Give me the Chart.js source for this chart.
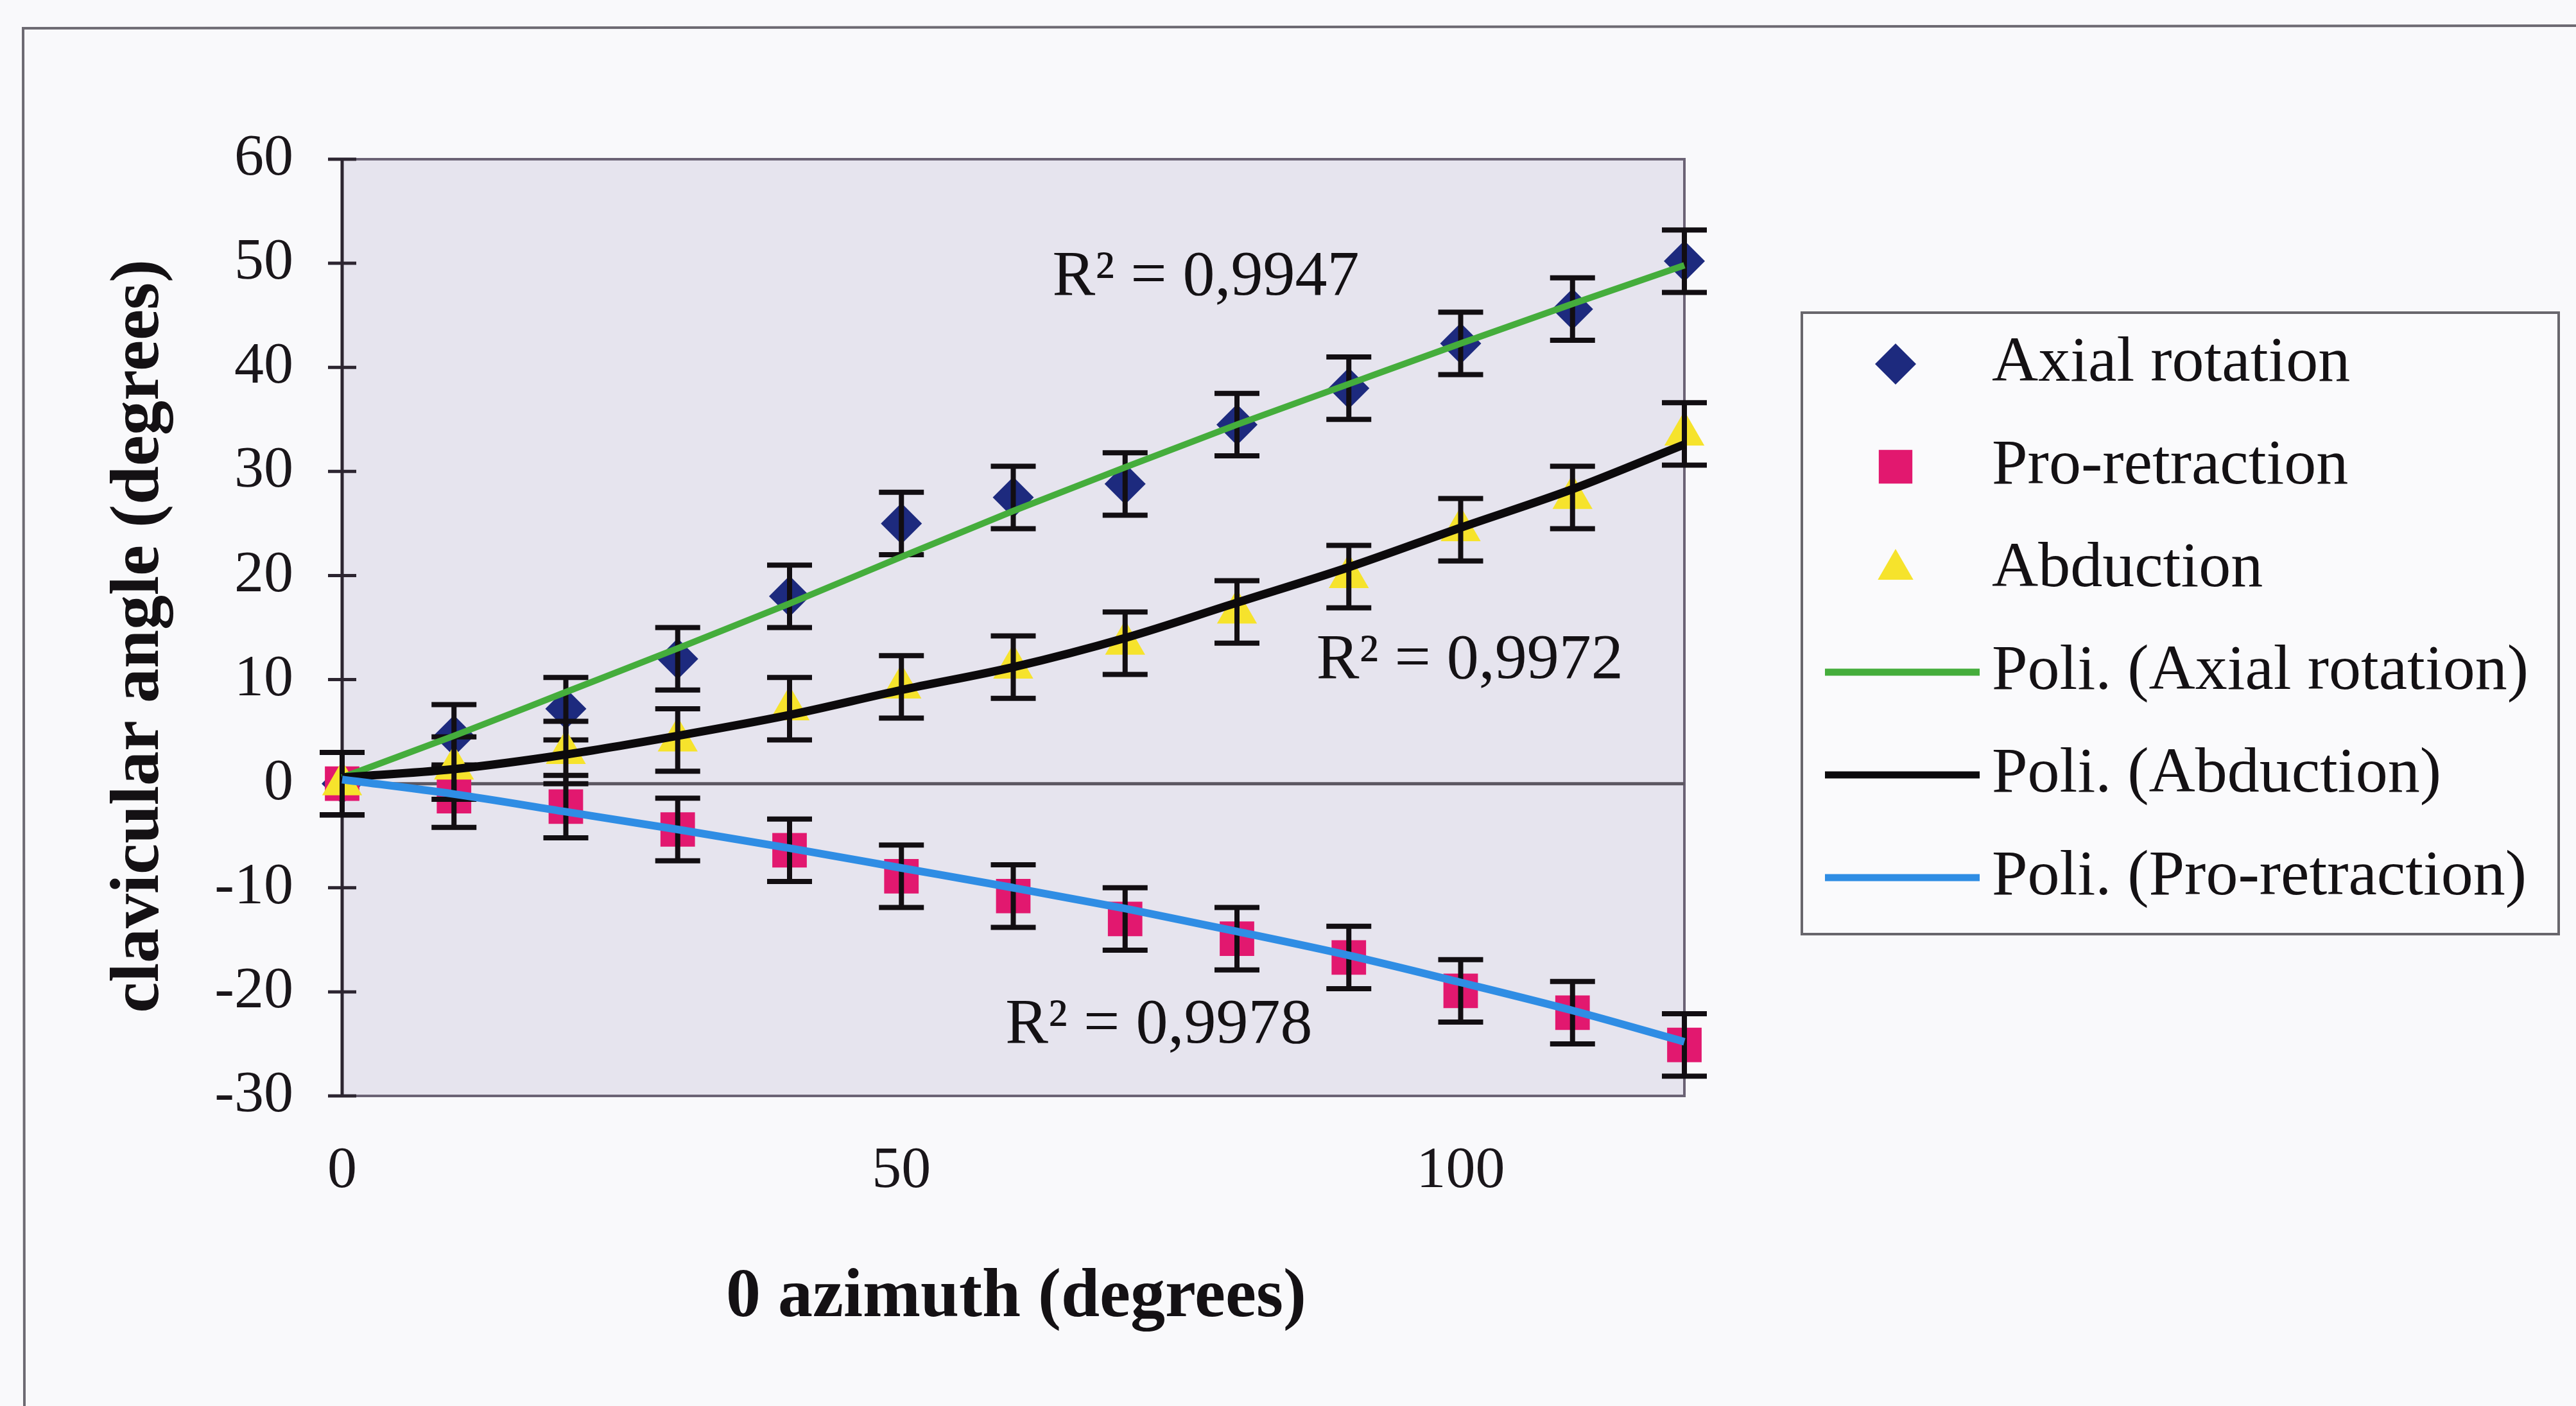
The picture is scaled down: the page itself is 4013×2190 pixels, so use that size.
<!DOCTYPE html>
<html>
<head>
<meta charset="utf-8">
<title>Clavicular angle vs azimuth</title>
<script src="https://cdn.jsdelivr.net/npm/chart.js@4.4.1/dist/chart.umd.min.js"></script>
<style>
  html, body { margin: 0; padding: 0; background: #f9f9fb; }
  #wrap { width: 4013px; height: 2190px; position: relative; }
  canvas { display: block; }
</style>
</head>
<body>
<div id="wrap"><canvas id="c" width="4013" height="2190"></canvas></div>
<script>
// Azimuth positions (degrees)
const azimuth = [0, 10, 20, 30, 40, 50, 60, 70, 80, 90, 100, 110, 120];

// Mean clavicular angles (degrees)
const axialRotation = [0, 4.6, 7.2, 12, 18, 25, 27.5, 28.8, 34.5, 38, 42.3, 45.6, 50.2];
const proRetraction = [0, -1.2, -2.2, -4.4, -6.4, -8.9, -10.8, -13, -14.9, -16.7, -19.9, -22, -25.1];
const abduction     = [0, 1.5, 3, 4.2, 7.2, 9.3, 11.2, 13.5, 16.5, 19.9, 24.4, 27.5, 33.6];

// Error bar half-lengths (degrees)
const axialErr = [3, 3, 3, 3, 3, 3, 3, 3, 3, 3, 3, 3, 3];
const proErr   = [3, 3, 3, 3, 3, 3, 3, 3, 3, 3, 3, 3, 3];
const abdErr   = [3, 3, 3, 3, 3, 3, 3, 3, 3, 3, 3, 3, 3];

// Polynomial trend lines, sampled at each azimuth
const trendAxial     = [0.6, 4.6, 8.8, 13.0, 17.3, 21.8, 26.2, 30.4, 34.5, 38.4, 42.3, 46.1, 49.8];
const trendAbduction = [0.6, 1.4, 2.8, 4.6, 6.6, 9.0, 11.2, 14.0, 17.4, 20.8, 24.6, 28.3, 32.6];
const trendPro       = [0.4, -1.0, -2.7, -4.4, -6.2, -8.1, -10.0, -12.0, -14.2, -16.5, -19.1, -21.8, -24.8];

// Axis ticks
const xTickValues = [0, 50, 100];
const yTickValues = [-30, -20, -10, 0, 10, 20, 30, 40, 50, 60];

// Labels
const seriesNames = ['Axial rotation', 'Pro-retraction', 'Abduction'];
const trendNames = ['Poli. (Axial rotation)', 'Poli. (Abduction)', 'Poli. (Pro-retraction)'];
const r2Texts = ['R\u00B2 = 0,9947', 'R\u00B2 = 0,9972', 'R\u00B2 = 0,9978'];
const xTitle = '0 azimuth (degrees)';
const yTitle = 'clavicular angle (degrees)';

const SERIF = '"Liberation Serif", "Times New Roman", Times, serif';
const toPts = (ys) => azimuth.map((x, i) => ({ x: x, y: ys[i] }));

const errorsByDataset = { 0: axialErr, 1: proErr, 2: abdErr };

const markerSet = (label, ys, color, style, radius, order) => ({
  label, data: toPts(ys), showLine: false,
  pointStyle: style, pointRadius: radius, pointHoverRadius: radius,
  pointBackgroundColor: color, pointBorderColor: color, pointBorderWidth: 0,
  backgroundColor: color, borderColor: color, order, clip: false
});
const trendSet = (label, ys, color, width, order) => ({
  label, data: toPts(ys), showLine: true, pointRadius: 0, pointHoverRadius: 0,
  borderColor: color, backgroundColor: color, borderWidth: width,
  cubicInterpolationMode: 'monotone', fill: false, order, clip: false
});

const datasets = [
  markerSet(seriesNames[0], axialRotation, '#1d2a7e', 'rectRot', 32, 6),
  markerSet(seriesNames[1], proRetraction, '#e2186f', 'rect', 38, 5),
  markerSet(seriesNames[2], abduction, '#f6e32c', 'triangle', 36, 4),
  trendSet(trendNames[0], trendAxial, '#45ad3c', 10, 3),
  trendSet(trendNames[1], trendAbduction, '#0c0a0c', 13, 2),
  trendSet(trendNames[2], trendPro, '#2f8de4', 12, 1)
];

function drawMarker(ctx, style, x, y, r, color) {
  ctx.save();
  ctx.fillStyle = color;
  ctx.beginPath();
  if (style === 'rectRot') {
    ctx.moveTo(x - r, y); ctx.lineTo(x, y - r); ctx.lineTo(x + r, y); ctx.lineTo(x, y + r);
  } else if (style === 'rect') {
    const s = r * Math.SQRT1_2;
    ctx.rect(x - s, y - s, 2 * s, 2 * s);
  } else {
    const w = r * Math.sin(Math.PI / 3);
    ctx.moveTo(x, y - r); ctx.lineTo(x + w, y + r / 2); ctx.lineTo(x - w, y + r / 2);
  }
  ctx.closePath();
  ctx.fill();
  ctx.restore();
}

const decor = {
  id: 'decor',
  beforeDraw(chart) {
    const { ctx, chartArea: a } = chart;
    ctx.save();
    ctx.fillStyle = '#f9f9fb';
    ctx.fillRect(0, 0, chart.width, chart.height);
    // outer frame
    ctx.strokeStyle = '#6d6a72';
    ctx.lineWidth = 4;
    ctx.beginPath();
    ctx.moveTo(4013, 40); ctx.lineTo(36, 44); ctx.lineTo(38, 2190);
    ctx.stroke();
    // plot area
    ctx.fillStyle = '#e6e4ee';
    ctx.fillRect(a.left, a.top, a.right - a.left, a.bottom - a.top);
    ctx.restore();
  },
  beforeDatasetsDraw(chart) {
    const { ctx, chartArea: a, scales } = chart;
    const y0 = scales.y.getPixelForValue(0);
    ctx.save();
    // plot border
    ctx.strokeStyle = '#6b6375';
    ctx.lineWidth = 4;
    ctx.beginPath();
    ctx.moveTo(a.left, a.top); ctx.lineTo(a.right, a.top); ctx.lineTo(a.right, a.bottom); ctx.lineTo(a.left, a.bottom);
    ctx.stroke();
    // zero line
    ctx.strokeStyle = '#5b5660';
    ctx.lineWidth = 5;
    ctx.beginPath();
    ctx.moveTo(a.left, y0); ctx.lineTo(a.right, y0);
    ctx.stroke();
    // value axis with crossing tick marks
    ctx.strokeStyle = '#2c2530';
    ctx.lineWidth = 5;
    ctx.beginPath();
    ctx.moveTo(a.left, a.top); ctx.lineTo(a.left, a.bottom);
    yTickValues.forEach(v => {
      const py = scales.y.getPixelForValue(v);
      ctx.moveTo(a.left - 22, py); ctx.lineTo(a.left + 22, py);
    });
    ctx.stroke();
    ctx.restore();
  },
  afterDatasetDraw(chart, args) {
    const errs = errorsByDataset[args.index];
    if (!errs) return;
    const { ctx, scales } = chart;
    const data = chart.data.datasets[args.index].data;
    ctx.save();
    ctx.strokeStyle = '#120e12';
    ctx.lineWidth = 8;
    ctx.beginPath();
    data.forEach((p, i) => {
      const px = scales.x.getPixelForValue(p.x);
      const top = scales.y.getPixelForValue(p.y + errs[i]);
      const bot = scales.y.getPixelForValue(p.y - errs[i]);
      ctx.moveTo(px, top); ctx.lineTo(px, bot);
      ctx.moveTo(px - 35, top); ctx.lineTo(px + 35, top);
      ctx.moveTo(px - 35, bot); ctx.lineTo(px + 35, bot);
    });
    ctx.stroke();
    ctx.restore();
  },
  afterDraw(chart) {
    const { ctx, scales } = chart;
    ctx.save();
    ctx.fillStyle = '#141114';
    // axis titles
    ctx.font = 'bold 108px ' + SERIF;
    ctx.textAlign = 'center';
    ctx.textBaseline = 'middle';
    ctx.fillText(xTitle, 1583, 2022);
    ctx.save();
    ctx.translate(218, 991);
    ctx.rotate(-Math.PI / 2);
    ctx.fillText(yTitle, 0, 0);
    ctx.restore();

    // R² annotations anchored in data space
    const r2Pos = [[63.5, 47.0], [87.1, 10.15], [59.3, -24.9]];
    ctx.font = '100px ' + SERIF;
    ctx.textAlign = 'left';
    ctx.textBaseline = 'alphabetic';
    r2Texts.forEach((t, i) => {
      ctx.fillText(t, scales.x.getPixelForValue(r2Pos[i][0]), scales.y.getPixelForValue(r2Pos[i][1]));
    });

    // legend
    const box = { l: 2807, t: 487, r: 3986, b: 1455 };
    ctx.fillStyle = '#fafafc';
    ctx.fillRect(box.l, box.t, box.r - box.l, box.b - box.t);
    ctx.strokeStyle = '#68666c';
    ctx.lineWidth = 4;
    ctx.strokeRect(box.l, box.t, box.r - box.l, box.b - box.t);
    ctx.font = '100px ' + SERIF;
    ctx.textBaseline = 'middle';
    chart.data.datasets.forEach((ds, row) => {
      const cy = 567 + row * 160;
      if (ds.showLine) {
        ctx.strokeStyle = ds.borderColor;
        ctx.lineWidth = 11;
        ctx.beginPath();
        ctx.moveTo(2843, cy); ctx.lineTo(3084, cy);
        ctx.stroke();
      } else {
        drawMarker(ctx, ds.pointStyle, 2953, cy, ds.pointStyle === 'rect' ? 37 : 32, ds.pointBackgroundColor);
      }
      ctx.fillStyle = '#141114';
      ctx.fillText(ds.label, 3103, cy);
    });
    ctx.restore();
  }
};

new Chart(document.getElementById('c'), {
  type: 'scatter',
  data: { datasets },
  options: {
    responsive: false,
    animation: false,
    devicePixelRatio: 1,
    events: [],
    layout: { padding: { top: 248, left: 0, right: 1389, bottom: 0 } },
    plugins: { legend: { display: false }, tooltip: { enabled: false } },
    scales: {
      x: {
        type: 'linear', min: 0, max: 120,
        grid: { display: false, drawTicks: false },
        border: { display: false },
        afterFit: (s) => { s.height = 483; },
        afterBuildTicks: (s) => { s.ticks = xTickValues.map(v => ({ value: v })); },
        ticks: { padding: 63, color: '#1a161a', font: { family: SERIF, size: 92 } }
      },
      y: {
        type: 'linear', min: -30, max: 60,
        grid: { display: false, drawTicks: false },
        border: { display: false },
        afterFit: (s) => { s.width = 533; },
        afterBuildTicks: (s) => { s.ticks = yTickValues.map(v => ({ value: v })); },
        ticks: { padding: 76, color: '#1a161a', font: { family: SERIF, size: 92 } }
      }
    }
  },
  plugins: [decor]
});
</script>
</body>
</html>
